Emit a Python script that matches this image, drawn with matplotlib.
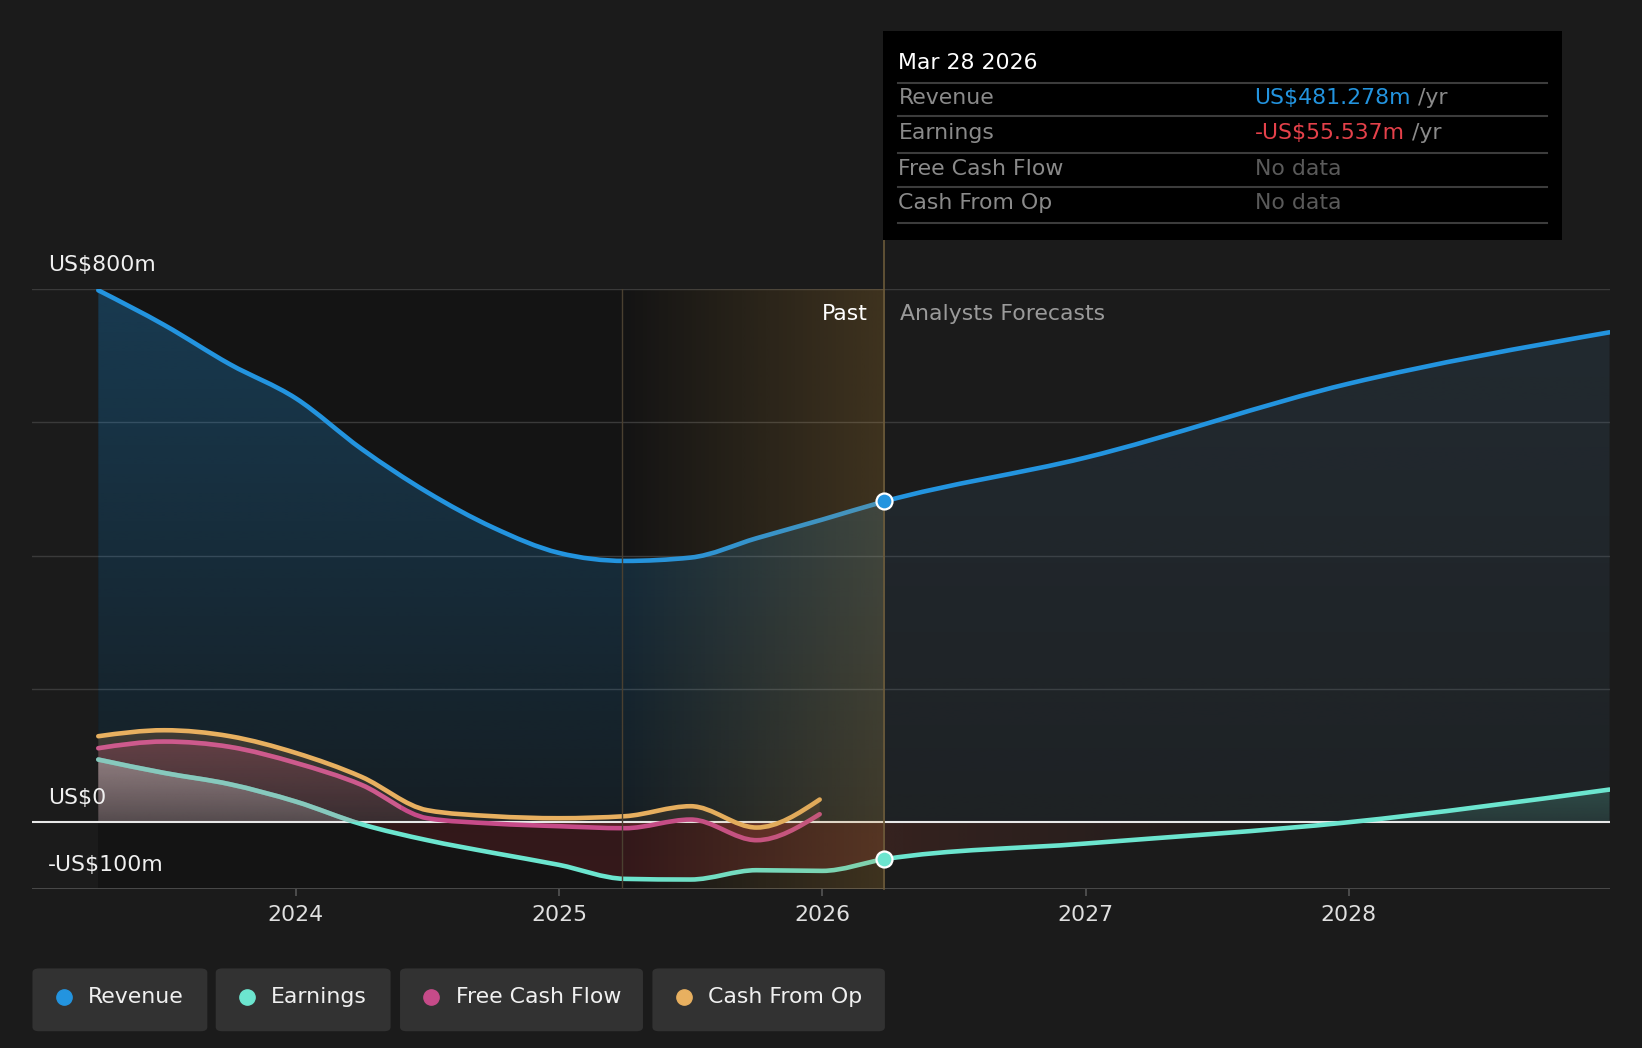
import numpy as np
import matplotlib
matplotlib.use("Agg")
import matplotlib.pyplot as plt
from matplotlib.patches import FancyBboxPatch, Rectangle, PathPatch
from matplotlib.path import Path
from matplotlib.colors import to_rgb
import matplotlib.transforms as mtransforms

# ---------------- data ----------------
past_t = [2023.25, 2023.5, 2023.75, 2024.0, 2024.25, 2024.5, 2024.75, 2025.0, 2025.25,
          2025.5, 2025.75, 2026.0, 2026.236]
rev_past = [798, 746, 687, 636, 560, 495, 442, 404, 392, 397, 426, 454, 481.278]
earn_past = [94, 74, 57, 31, -3, -27, -46, -64, -85, -86, -72, -73, -55.537]
fc_t = [2026.236, 2027.0, 2028.0, 2028.99]
rev_fc = [481.278, 547, 658, 735]
earn_fc = [-55.537, -32, 0, 49]
cf_t = [2023.25, 2023.5, 2023.75, 2024.0, 2024.25, 2024.5, 2024.75, 2025.0, 2025.25,
        2025.5, 2025.75, 2025.99]
fcf_v = [111, 121, 113, 89, 56, 6, -2, -6, -9, 4, -27, 12]
cfo_v = [129, 138, 129, 104, 68, 18, 9, 6, 9, 24, -8, 34]

past_start, hl_start, now_t, end_t = 2023.25, 2025.24, 2026.236, 2028.99
year_ticks = [2024, 2025, 2026, 2027, 2028]
y_labels = {800: "US$800m", 0: "US$0", -100: "-US$100m"}

C_REV, C_EARN, C_FCF, C_CFO = "#2394df", "#6ce5cf", "#c64b89", "#e8b060"
BG = "#1b1b1b"
FS = 15.8

fig = plt.figure(figsize=(16.42, 10.48), dpi=100, facecolor=BG)
ax = fig.add_axes([31/1568, 1-849/1001, (1537-31)/1568, (849-276)/1001])
ax.set_facecolor(BG)
ax.set_xlim(2023.0, end_t)
ax.set_ylim(-100, 800)
for s in ax.spines.values():
    s.set_visible(False)


def mono_tangents(x, y):
    x = np.asarray(x, float); y = np.asarray(y, float)
    h = np.diff(x); d = np.diff(y) / h
    n = len(x)
    m = np.zeros(n)
    for k in range(1, n - 1):
        s0, s1 = d[k - 1], d[k]
        if s0 * s1 <= 0:
            m[k] = 0
        else:
            p = (s0 * h[k] + s1 * h[k - 1]) / (h[k - 1] + h[k])
            m[k] = np.sign(s0) * min(abs(s0), abs(s1), 0.5 * abs(p)) * 2
    m[0] = (3 * d[0] - m[1]) / 2 if n > 2 else d[0]
    m[-1] = (3 * d[-1] - m[-2]) / 2 if n > 2 else d[-1]
    return m


def curve_path(x, y, base=None):
    """Bezier path through data points (monotone-X style); optionally closed to a baseline."""
    m = mono_tangents(x, y)
    verts = [(x[0], y[0])]
    codes = [Path.MOVETO]
    for k in range(len(x) - 1):
        hk = (x[k + 1] - x[k]) / 3
        verts += [(x[k] + hk, y[k] + m[k] * hk), (x[k + 1] - hk, y[k + 1] - m[k + 1] * hk), (x[k + 1], y[k + 1])]
        codes += [Path.CURVE4] * 3
    if base is not None:
        verts += [(x[-1], base), (x[0], base), (x[0], y[0])]
        codes += [Path.LINETO, Path.LINETO, Path.CLOSEPOLY]
    return Path(verts, codes)


def clip_patch(path):
    p = PathPatch(path, facecolor="none", edgecolor="none")
    ax.add_patch(p)
    return p


def grad_img(x0, x1, y0, y1, color, a_start, a_end, z, clip, vertical=True):
    n = 256
    if vertical:
        img = np.zeros((n, 1, 4)); img[:, 0, :3] = to_rgb(color); img[:, 0, 3] = np.linspace(a_start, a_end, n)
    else:
        img = np.zeros((1, n, 4)); img[0, :, :3] = to_rgb(color); img[0, :, 3] = np.linspace(a_start, a_end, n)
    im = ax.imshow(img, extent=[x0, x1, y0, y1], origin="upper", aspect="auto",
                   zorder=z, interpolation="bilinear")
    if clip is not None:
        im.set_clip_path(clip)
    return im


rev_t_all = past_t + fc_t[1:]
rev_all = rev_past + rev_fc[1:]
earn_all = earn_past + earn_fc[1:]

# dark past region
ax.add_patch(Rectangle((past_start, -100), now_t - past_start, 900, color="#141414", zorder=0.5, lw=0))

# grid
for g in [200, 400, 600, 800]:
    ax.axhline(g, color="#3a3a3a", lw=1, zorder=0.6)
ax.axhline(-100, color="#4a4a4a", lw=1.4, zorder=0.6)

# revenue fill (down to zero)
rev_clip = clip_patch(curve_path(rev_t_all, rev_all, base=0))
grad_img(past_start, now_t, 0, 800, C_REV, 0.30, 0.08, 1, rev_clip)
grad_img(now_t, end_t, 0, 800, "#4a7fa8", 0.16, 0.07, 1, rev_clip)

# cash flow fills
cfo_clip = clip_patch(curve_path(cf_t, cfo_v, base=0))
grad_img(past_start, cf_t[-1], 0, 140, "#b08050", 0.28, 0.12, 1.2, cfo_clip)
fcf_clip = clip_patch(curve_path(cf_t, fcf_v, base=0))
grad_img(past_start, cf_t[-1], 0, 125, "#c05070", 0.30, 0.12, 1.25, fcf_clip)
grad_img(past_start, cf_t[-1], -30, 0, "#c64b4b", 0.22, 0.22, 1.25, fcf_clip)

# earnings fills
earn_clip = clip_patch(curve_path(rev_t_all, earn_all, base=0))
grad_img(past_start, 2024.3, 0, 100, "#d8d8d8", 0.42, 0.18, 1.3, earn_clip)
grad_img(2027.95, end_t, 0, 55, C_EARN, 0.22, 0.12, 1.3, earn_clip)
grad_img(2024.2, now_t, -90, 0, "#a02830", 0.22, 0.24, 1.3, earn_clip)
grad_img(now_t, 2028.0, -60, 0, "#a04030", 0.20, 0.0, 1.3, earn_clip, vertical=False)

# zero line
ax.axhline(0, color="#e8e8e8", lw=1.5, zorder=2)

# lines
def draw_line(x, y, color, z=3):
    p = PathPatch(curve_path(x, y), facecolor="none", edgecolor=color, lw=3.3, zorder=z,
                  capstyle="round", joinstyle="round")
    ax.add_patch(p)
    return p

draw_line(rev_t_all, rev_all, C_REV)
draw_line(rev_t_all, earn_all, C_EARN)
draw_line(cf_t, fcf_v, C_FCF)
draw_line(cf_t, cfo_v, C_CFO)
# faded look of earnings / fcf lines inside the positive past region
fade_rect = Rectangle((past_start - 0.05, 0), 1.2, 200, facecolor="none", edgecolor="none")
ax.add_patch(fade_rect)
o1 = draw_line(rev_t_all, earn_all, "#a8a8a8", z=3.1)
o1.set_alpha(0.45); o1.set_clip_path(fade_rect)
o2 = draw_line(cf_t, fcf_v, "#f0a0a0", z=3.1)
o2.set_alpha(0.18); o2.set_clip_path(fade_rect)

# highlight gradient overlay
grad_img(hl_start, now_t, -100, 800, "#c09040", 0.0, 0.25, 3.5, None, vertical=False)
ax.axvline(hl_start, color="#4a4030", lw=1, zorder=3.6)
ax.plot([now_t, now_t], [-100, 873], color="#6b5a3a", lw=1.2, zorder=3.6, clip_on=False)

# markers
ax.plot([now_t], [rev_past[-1]], "o", ms=11.5, mfc=C_REV, mec="white", mew=1.6, zorder=5)
ax.plot([now_t], [earn_past[-1]], "o", ms=11.5, mfc=C_EARN, mec="white", mew=1.6, zorder=5)

# axis labels
ax.set_xticks(year_ticks)
ax.set_xticklabels([str(y) for y in year_ticks])
ax.tick_params(axis="x", colors="#555555", labelcolor="#e0e0e0", labelsize=FS, length=5, width=1.2, pad=6.5)
ax.set_yticks([])
trans = mtransforms.blended_transform_factory(ax.transAxes, ax.transData)
for v, s in y_labels.items():
    ax.text(0.0100, v + 36, s, transform=trans, color="#f0f0f0", fontsize=FS, va="center", ha="left", zorder=6)

ax.text(now_t - 0.065, 763, "Past", color="#ffffff", fontsize=FS, ha="right", va="center", zorder=6)
ax.text(now_t + 0.06, 763, "Analysts Forecasts", color="#9a9a9a", fontsize=FS, ha="left", va="center", zorder=6)

# tooltip
def fx(x): return x / 1568
def fy(y): return 1 - y / 1001
fig.patches.append(Rectangle((fx(843), fy(229)), fx(1492) - fx(843), fy(30) - fy(229),
                             transform=fig.transFigure, facecolor="#000000", edgecolor="none", zorder=10))
fig.text(fx(858), fy(60), "Mar 28 2026", color="#ffffff", fontsize=FS, va="center", ha="left", zorder=11)
for yy in [79, 111, 146, 179, 213]:
    fig.lines.append(plt.Line2D([fx(858), fx(1477)], [fy(yy), fy(yy)], transform=fig.transFigure,
                                color="#3c3c3c", lw=1.5, zorder=11))
rows = [("Revenue", "US$481.278m", C_REV, " /yr"), ("Earnings", "-US$55.537m", "#e5414a", " /yr"),
        ("Free Cash Flow", "No data", "#5a5a5a", ""), ("Cash From Op", "No data", "#5a5a5a", "")]
fig.canvas.draw()
for (lab, val, col, suf), yy in zip(rows, [94, 127, 161, 194]):
    fig.text(fx(858), fy(yy), lab, color="#8a8a8a", fontsize=FS, va="center", ha="left", zorder=11)
    t = fig.text(fx(1198), fy(yy), val, color=col, fontsize=FS, va="center", ha="left", zorder=11)
    if suf:
        bb = t.get_window_extent(renderer=fig.canvas.get_renderer())
        fig.text(bb.x1 / fig.bbox.width, fy(yy), suf, color="#8a8a8a", fontsize=FS, va="center", ha="left", zorder=11)

# legend
legend = [("Revenue", C_REV, 31, 198), ("Earnings", C_EARN, 206, 373),
          ("Free Cash Flow", C_FCF, 382, 614), ("Cash From Op", C_CFO, 623, 845)]
for lab, col, x0, x1 in legend:
    fig.patches.append(FancyBboxPatch((fx(x0), fy(985)), fx(x1) - fx(x0), fy(925) - fy(985),
                                      boxstyle="round,pad=0,rounding_size=0.004", transform=fig.transFigure,
                                      facecolor="#323232", edgecolor="none", zorder=10))
    fig.lines.append(plt.Line2D([fx(x0 + 30)], [fy(952)], marker="o", ms=11, color=col,
                                transform=fig.transFigure, zorder=11, ls=""))
    fig.text(fx(x0 + 53), fy(952), lab, color="#f0f0f0", fontsize=FS, va="center", ha="left", zorder=11)

fig.savefig("out.png", dpi=100, facecolor=BG)
